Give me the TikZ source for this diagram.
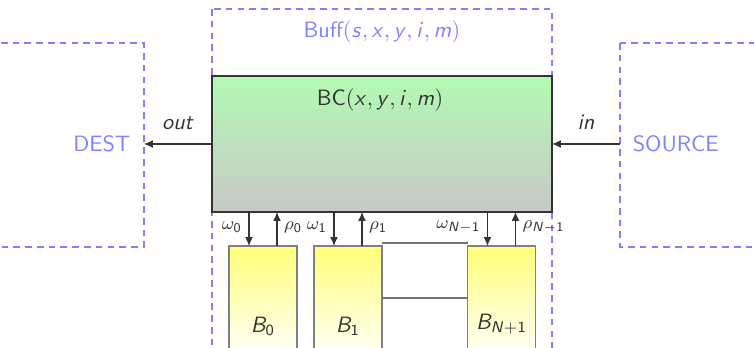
\documentclass[tikz,border=0pt]{standalone}
\usetikzlibrary{calc,arrows.meta}
\DeclareMathAlphabet{\mathsfit}{OT1}{cmss}{m}{sl}
\renewcommand{\familydefault}{\sfdefault}
\definecolor{dashblue}{RGB}{128,128,255}
\definecolor{ink}{RGB}{51,51,51}
\definecolor{bfill}{RGB}{255,255,120}
\begin{document}
\begin{tikzpicture}[x=0.45pt,y=-0.45pt,
  dashbox/.style={draw=dashblue,line width=0.5pt,dash pattern=on 3pt off 2.3pt},
  bcbox/.style={draw=ink,line width=0.5pt,top color={rgb,255:red,178;green,250;blue,178},bottom color={rgb,255:red,200;green,200;blue,200},minimum width=153pt,minimum height=61.2pt,inner sep=0pt,outer sep=0pt},
  bbox/.style={draw=black!50,line width=0.5pt,top color=bfill,bottom color=white,minimum width=30.6pt,minimum height=51.3pt,inner sep=0pt,outer sep=0pt},
  conn/.style={draw=ink,line width=0.5pt,-{Latex[length=4pt,width=3.5pt]}},
  plain/.style={draw=black!55,line width=0.5pt},
  lbl/.style={font=\footnotesize,text=ink,inner sep=1pt}]
\clip (0,0) rectangle (754,348);
% outer dashed boxes
\draw[dashbox] (212,9) rectangle (552,380);
\node[text=dashblue] (bufflbl) at (382,32) {Buff$(\mathsfit{s}, \mathsfit{x}, \mathsfit{y}, \mathsfit{i}, \mathsfit{m})$};
\draw[dashbox] (-30,43) rectangle (144,247);
\coordinate (destR) at (144,144);
\node[text=dashblue,anchor=east] (dest) at (138,144) {DEST};
\draw[dashbox] (620,43) rectangle (790,247);
\coordinate (srcL) at (620,144);
\node[text=dashblue,anchor=west] (src) at (625,144) {SOURCE};
% BC box
\node[bcbox] (BC) at (382,144) {};
\node[text=ink] (bclbl) at (380,100) {BC$(\mathsfit{x}, \mathsfit{y}, \mathsfit{i}, \mathsfit{m})$};
\draw[conn] (BC.west) -- (destR) node[midway,above=3pt,text=ink] {\textit{out}};
\draw[conn] (srcL) -- (BC.east) node[midway,above=3pt,text=ink] {\textit{in}};
% B boxes
\node[bbox,anchor=north] (B0) at (263,246) {};
\node[bbox,anchor=north] (B1) at (348,246) {};
\node[bbox,anchor=north] (BN) at (501.5,246) {};
\node[text=ink] (b0l) at (263,326) {$\mathsfit{B}_{\mathsf{0}}$};
\node[text=ink] (b1l) at (348,326) {$\mathsfit{B}_{\mathsf{1}}$};
\node[text=ink] (bnl) at (501.5,324) {$\mathsfit{B}_{\mathsfit{N}+\mathsf{1}}$};
% connections between B1 and BN
\draw[plain] ($(B1.north east)+(0,-3)$) -- ($(BN.north west)+(0,-3)$);
\draw[plain] ($(B1.north east)+(0,52)$) -- ($(BN.north west)+(0,52)$);
% arrows
\foreach \b/\w/\r in {B0/{\omega_{\mathsf{0}}}/{\rho_{\mathsf{0}}},B1/{\omega_{\mathsf{1}}}/{\rho_{\mathsf{1}}},BN/{\omega_{\mathsfit{N}-\mathsf{1}}}/{\rho_{\mathsfit{N}-\mathsf{1}}}}{
  \coordinate (\b w) at ($(\b.north)+(-14,0)$);
  \coordinate (\b r) at ($(\b.north)+(14,0)$);
  \draw[conn] (\b w |- BC.south) -- (\b w) node[pos=0.45,left=2pt,lbl] {$\w$};
  \draw[conn] (\b r) -- (\b r |- BC.south) node[pos=0.55,right=2pt,lbl] {$\r$};
}
\end{tikzpicture}
\end{document}
